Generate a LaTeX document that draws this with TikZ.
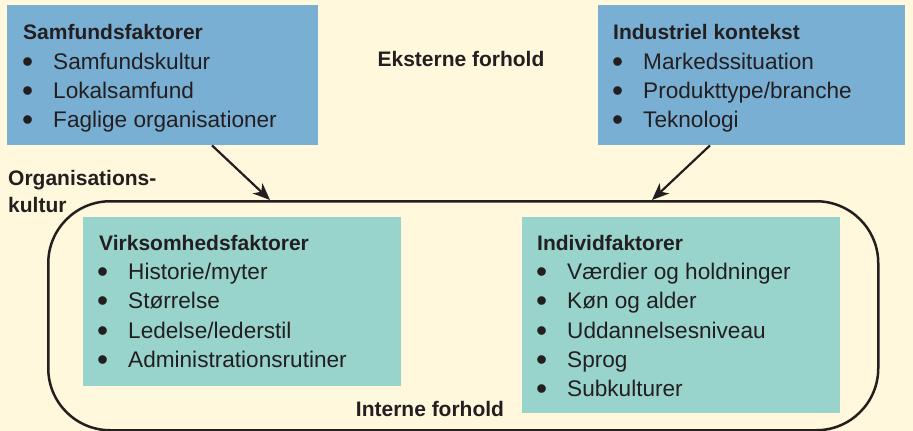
\documentclass[tikz,border=0pt]{standalone}
\usepackage{fontspec}
\setmainfont{Liberation Sans}
\usetikzlibrary{arrows.meta,calc}
\definecolor{bg}{RGB}{255,248,220}
\definecolor{bluebox}{RGB}{122,175,212}
\definecolor{tealbox}{RGB}{152,212,204}
\definecolor{ink}{RGB}{35,31,32}
\begin{document}
\begin{tikzpicture}[x=1pt,y=-1pt,
  box/.style={rectangle,inner sep=0pt,anchor=north west},
  extbox/.style={box,fill=bluebox},
  intbox/.style={box,fill=tealbox},
  ttl/.style={anchor=base west,inner sep=0pt,text=ink,font=\fontsize{21}{25}\selectfont\bfseries},
  itm/.style={anchor=base west,inner sep=0pt,text=ink,font=\fontsize{22.6}{26}\selectfont},
  lbl/.style={inner sep=0pt,text=ink,font=\fontsize{21}{27}\selectfont\bfseries},
  conn/.style={draw=ink,line width=2.2pt,-{Stealth[length=17pt,width=14pt,inset=5pt]}},
  orgframe/.style={draw=ink,line width=2.5pt,rounded corners=62pt}
]
\newcommand{\bitem}[1]{\makebox[31pt][l]{\raisebox{-3pt}{\scalebox{1.4}{•}}}#1}
\fill[bg] (0,0) rectangle (913,431);
\useasboundingbox (0,0) rectangle (913,431);

% external boxes
\node[extbox,minimum width=311pt,minimum height=140pt] (samf) at (7,5) {};
\node[extbox,minimum width=307pt,minimum height=140pt] (ind) at (598,5) {};

% organisation frame
\node[box,orgframe,minimum width=830pt,minimum height=229pt] (org) at (47,200) {};

% internal boxes
\node[intbox,minimum width=318pt,minimum height=169pt] (virk) at (83,217) {};
\node[intbox,minimum width=318pt,minimum height=196pt] (indiv) at (522,217) {};

% texts in Samfundsfaktorer
\node[ttl] (t1) at (23,39) {Samfundsfaktorer};
\node[itm] (t1a) at (22,69) {\bitem{Samfundskultur}};
\node[itm] (t1b) at (22,98) {\bitem{Lokalsamfund}};
\node[itm] (t1c) at (22,127) {\bitem{Faglige organisationer}};

% Industriel kontekst
\node[ttl] (t2) at (613,39) {Industriel kontekst};
\node[itm] (t2a) at (612,69) {\bitem{Markedssituation}};
\node[itm] (t2b) at (612,98) {\bitem{Produkttype/branche}};
\node[itm] (t2c) at (612,127) {\bitem{Teknologi}};

% Virksomhedsfaktorer
\node[ttl] (t3) at (99,250) {Virksomhedsfaktorer};
\node[itm] (t3a) at (97,279) {\bitem{Historie/myter}};
\node[itm] (t3b) at (97,308) {\bitem{Størrelse}};
\node[itm] (t3c) at (97,338) {\bitem{Ledelse/lederstil}};
\node[itm] (t3d) at (97,367) {\bitem{Administrationsrutiner}};

% Individfaktorer
\node[ttl] (t4) at (537,250) {Individfaktorer};
\node[itm] (t4a) at (536,279) {\bitem{Værdier og holdninger}};
\node[itm] (t4b) at (536,308) {\bitem{Køn og alder}};
\node[itm] (t4c) at (536,338) {\bitem{Uddannelsesniveau}};
\node[itm] (t4d) at (536,367) {\bitem{Sprog}};
\node[itm] (t4e) at (536,396) {\bitem{Subkulturer}};

% labels
\node[lbl,anchor=base] (ext) at (461,66) {Eksterne forhold};
\node[lbl,anchor=base] (int) at (430,416) {Interne forhold};
\node[lbl,anchor=base west,align=left] (orgl) at (8,212) {Organisations-\\kultur};

% connectors
\draw[conn] ($(samf.south west)+(205,0)$) -- ($(org.north west)+(223,0)$);
\draw[conn] ($(ind.south west)+(112,0)$) -- ($(org.north west)+(605,0)$);
\end{tikzpicture}
\end{document}
